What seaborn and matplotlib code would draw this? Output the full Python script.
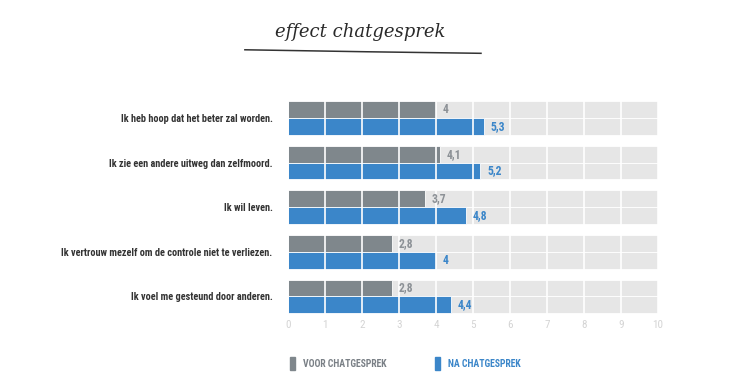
import pandas as pd
import seaborn as sns
import matplotlib.pyplot as plt
from matplotlib.lines import Line2D
from matplotlib.patches import Patch

# data
statements = [
    "Ik heb hoop dat het beter zal worden.",
    "Ik zie een andere uitweg dan zelfmoord.",
    "Ik wil leven.",
    "Ik vertrouw mezelf om de controle niet te verliezen.",
    "Ik voel me gesteund door anderen.",
]
voor = [4, 4.1, 3.7, 2.8, 2.8]
na = [5.3, 5.2, 4.8, 4, 4.4]
series = ["VOOR CHATGESPREK", "NA CHATGESPREK"]
scale_max = 10

gray = "#7f878c"
blue = "#3b86c9"
track = "#e6e6e6"

df = pd.DataFrame({
    "stelling": statements * 2,
    "groep": [series[0]] * len(statements) + [series[1]] * len(statements),
    "score": voor + na,
})
df["max"] = scale_max

narrow = ["Roboto Condensed", "Liberation Sans Narrow", "Roboto", "DejaVu Sans"]

fig = plt.figure(figsize=(7.31, 3.92), dpi=100)
ax = fig.add_axes([0.394, 0.187, 0.506, 0.569])

# light track behind every bar
sns.barplot(data=df, y="stelling", x="max", hue="groep", orient="h",
            palette=[track, track], width=0.75, ax=ax, legend=False,
            linewidth=0, saturation=1)
sns.barplot(data=df, y="stelling", x="score", hue="groep", orient="h",
            palette=[gray, blue], width=0.75, ax=ax, legend=False,
            linewidth=0, saturation=1)

# tiny gap between the two bars of a pair
for p in ax.patches:
    p.set_edgecolor("white")
    p.set_linewidth(0.6)

ax.set_xlim(0, scale_max)
ax.set_xticks(range(0, scale_max + 1))
ax.set_xticklabels([str(i) for i in range(0, scale_max + 1)],
                   family=narrow, fontsize=8, color="#d4d4d4")
ax.grid(axis="x", color="white", linewidth=1.2)
ax.set_axisbelow(False)
ax.tick_params(axis="both", length=0)
ax.tick_params(axis="y", pad=11)
ax.tick_params(axis="x", pad=1)
for lbl in ax.get_yticklabels():
    lbl.set_family(narrow)
    lbl.set_fontweight("bold")
    lbl.set_fontsize(7.4)
    lbl.set_color("#333333")
for s in ax.spines.values():
    s.set_visible(False)
ax.set_xlabel("")
ax.set_ylabel("")

# value labels
for i in range(len(statements)):
    ax.text(voor[i] + 0.18, i - 0.1875, f"{voor[i]:g}".replace(".", ","),
            va="center", ha="left", fontsize=8.5, fontweight="bold",
            color="#8c9196", family=narrow)
    ax.text(na[i] + 0.18, i + 0.1875, f"{na[i]:g}".replace(".", ","),
            va="center", ha="left", fontsize=8.5, fontweight="bold",
            color=blue, family=narrow)

# title with hand-drawn underline
fig.text(0.493, 0.918, "effect chatgesprek", ha="center", va="center",
         fontsize=13, style="italic", family="DejaVu Serif", color="#2a2a2a")
fig.add_artist(Line2D([0.335, 0.50, 0.658], [0.873, 0.868, 0.864],
                      transform=fig.transFigure, color="#333333", linewidth=1.1))

# legend, one entry each so they sit where the reference has them
text_colors = ["#7a8086", blue]
anchors = [0.385, 0.583]
for name, c, tc, xa in zip(series, [gray, blue], text_colors, anchors):
    leg = fig.legend([Patch(color=c)], [name], loc="center left",
                     bbox_to_anchor=(xa, 0.073), frameon=False,
                     handlelength=0.5, handleheight=1.7, handletextpad=0.8,
                     prop={"family": narrow, "weight": "bold", "size": 7})
    leg.get_texts()[0].set_color(tc)

fig.savefig("out.png", dpi=100, facecolor="white")
